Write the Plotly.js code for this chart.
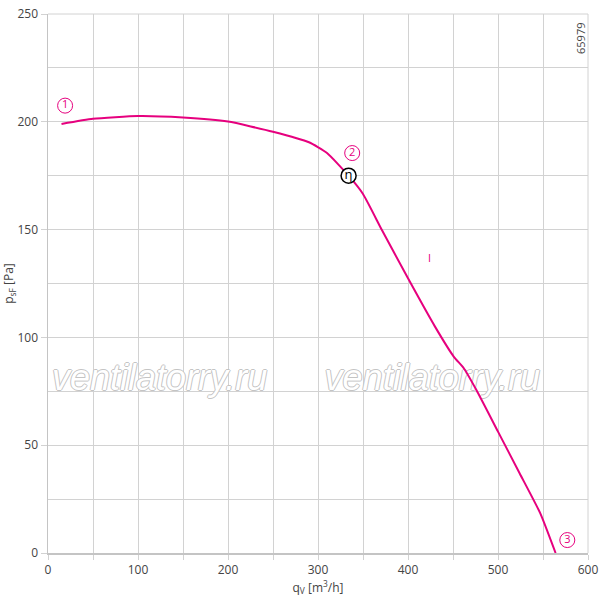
<!DOCTYPE html>
<html>
<head>
<meta charset="utf-8">
<script src="https://cdn.plot.ly/plotly-3.0.1.min.js"></script>
<style>html,body{margin:0;padding:0;background:#fff;}#chart{width:600px;height:601px;}</style>
</head>
<body>
<div id="chart"></div>
<script>
// Fan curve data (q_V in m3/h, p_sF in Pa)
var curveQ = [15, 50, 100, 150, 200, 250, 290, 310, 334, 350, 371, 400, 430, 451, 462, 476, 500, 524, 547, 564];
var curveP = [199, 201.4, 202.7, 202, 200.1, 195.4, 190.5, 185.5, 175, 166.5, 149.8, 127.4, 105, 91, 85.7, 75.6, 56.3, 37, 18.4, 0];

var pointLabels = ["1", "2", "3"];
var pointQ = [19, 338, 577];
var pointP = [207.5, 185.5, 6];

var etaQ = [334];
var etaP = [175];

var watermarkQ = [124, 427];
var watermarkP = [80, 80];
var watermarkText = ["ventilatorry.ru", "ventilatorry.ru"];

var pink = "#e6007e";
var gridCol = "#d2d2d2";
var fontFam = "Open Sans, Noto Sans, sans-serif";

var traces = [
  {
    x: watermarkQ, y: watermarkP, mode: "text", text: watermarkText,
    textfont: {family: "Liberation Sans, Arial, sans-serif", size: 36, style: "italic", color: "#ffffff",
      shadow: "-1px 0 #c4c4c4, 1px 0 #c4c4c4, 0 -1px #c4c4c4, 0 1px #c4c4c4"},
    hoverinfo: "skip", showlegend: false
  },
  {
    x: curveQ, y: curveP, mode: "lines", line: {color: pink, width: 2, shape: "spline", smoothing: 0.5},
    hoverinfo: "skip", showlegend: false
  },
  {
    x: pointQ, y: pointP, mode: "markers+text", text: pointLabels, textposition: "middle center",
    textfont: {family: fontFam, size: 11, color: pink},
    marker: {symbol: "circle-open", size: 15, color: pink, line: {width: 1, color: pink}},
    hoverinfo: "skip", showlegend: false, cliponaxis: false
  },
  {
    x: etaQ, y: etaP, mode: "markers+text", text: ["η"], textposition: "middle center",
    textfont: {family: fontFam, size: 13, color: "#000"},
    marker: {symbol: "circle", size: 15, color: "#fff", line: {width: 1.5, color: "#000"}},
    hoverinfo: "skip", showlegend: false
  }
];

var layout = {
  width: 600, height: 601,
  margin: {l: 48, r: 12, t: 14, b: 48},
  paper_bgcolor: "#fff", plot_bgcolor: "#fff",
  font: {family: fontFam, size: 12, color: "#444"},
  xaxis: {
    range: [0, 600], dtick: 100, tick0: 0,
    showgrid: true, gridcolor: gridCol, gridwidth: 1,
    zeroline: false, showline: true, linecolor: "#c4c4c4", linewidth: 1.5, mirror: false,
    ticks: "outside", ticklen: 5, tickcolor: gridCol,
    minor: {dtick: 50, showgrid: true, gridcolor: gridCol, gridwidth: 1, ticks: "outside", ticklen: 5, tickcolor: gridCol},
    tickfont: {size: 12, color: "#444"},
    title: {text: "q<sub>V</sub> [m<sup>3</sup>/h]", font: {size: 12, color: "#444"}, standoff: 4}
  },
  yaxis: {
    range: [0, 250], dtick: 50, tick0: 0,
    showgrid: true, gridcolor: gridCol, gridwidth: 1,
    zeroline: false, showline: true, linecolor: "#c4c4c4", linewidth: 1.5,
    ticks: "outside", ticklen: 6, tickcolor: gridCol,
    minor: {dtick: 25, showgrid: true, gridcolor: gridCol, gridwidth: 1, ticks: ""},
    tickfont: {size: 12, color: "#444"},
    title: {text: "p<sub>sF</sub> [Pa]", font: {size: 12, color: "#444"}, standoff: 6}
  },
  shapes: [
    {type: "line", xref: "paper", yref: "paper", x0: 0, x1: 1, y0: 1, y1: 1, line: {color: gridCol, width: 1}},
    {type: "line", xref: "paper", yref: "paper", x0: 1, x1: 1, y0: 0, y1: 1, line: {color: gridCol, width: 1}}
  ],
  annotations: [
    {text: "65979", xref: "paper", yref: "paper", x: 0.987, y: 0.9555, xanchor: "center", yanchor: "middle",
      textangle: -90, showarrow: false, font: {size: 11, color: "#444"}},
    {text: "I", x: 424, y: 137, showarrow: false, font: {size: 11, color: pink}}
  ]
};

Plotly.newPlot("chart", traces, layout, {staticPlot: true, displayModeBar: false});
</script>
</body>
</html>
